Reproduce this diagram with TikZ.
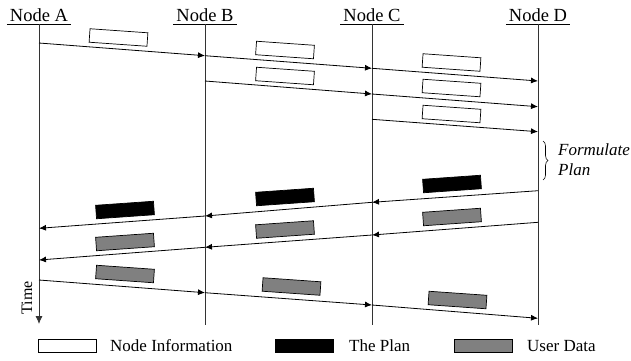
\documentclass[tikz,border=0pt]{standalone}
\usepackage{fontspec}
\setmainfont{Liberation Serif}
\usetikzlibrary{arrows.meta,decorations.pathreplacing}
\begin{document}
\begin{tikzpicture}[x=1pt,y=-1pt,
  title/.style={font=\fontsize{18.5}{20}\selectfont, anchor=base, inner xsep=3pt, inner ysep=3pt},
  lifeline/.style={line width=0.8pt, draw=black!80},
  msg/.style={line width=0.8pt, -{Latex[length=7pt,width=6pt]}},
  pkt/.style={draw=black, line width=0.7pt, minimum width=58pt, minimum height=13.5pt, inner sep=0pt},
  infobox/.style={pkt, fill=white},
  planbox/.style={pkt, fill=black},
  databox/.style={pkt, fill=black!50},
  fwd/.style={rotate=-4},
  back/.style={rotate=4},
  legtext/.style={font=\fontsize{17}{20}\selectfont, anchor=base west, inner sep=0pt},
  note/.style={font=\fontsize{17}{20}\selectfont\itshape, anchor=base west, inner sep=0pt}
]
\useasboundingbox (0,0) rectangle (631,360);

% titles
\node[title] (tA) at (39,21) {Node A};
\node[title] (tB) at (205,21) {Node B};
\node[title] (tC) at (372,21) {Node C};
\node[title] (tD) at (538,21) {Node D};
\foreach \n in {A,B,C,D}{\draw[line width=0.7pt] (t\n.south west) -- (t\n.south east);}

% lifeline ends
\coordinate (eA) at (39,324);
\coordinate (eB) at (205,325);
\coordinate (eC) at (372,325);
\coordinate (eD) at (538,325);
\draw[lifeline, -{Latex[length=8pt,width=7pt]}] (tA.south) -- (eA);
\draw[lifeline] (tB.south) -- (eB);
\draw[lifeline] (tC.south) -- (eC);
\draw[lifeline] (tD.south) -- (eD);

% message points
\coordinate (a1) at (39,43);   \coordinate (b1) at (205,55.7);
\coordinate (c1) at (372,68.3); \coordinate (d1) at (538,81);
\coordinate (b2) at (205,81);  \coordinate (c2) at (372,94);
\coordinate (d2) at (538,106.7);
\coordinate (c3) at (372,119.3); \coordinate (d3) at (538,131.7);
\coordinate (d4) at (538,190.7); \coordinate (c4) at (372,202.3);
\coordinate (b4) at (205,216);   \coordinate (a4) at (39,228.3);
\coordinate (d5) at (538,222.3); \coordinate (c5) at (372,235);
\coordinate (b5) at (205,247.3); \coordinate (a5) at (39,260);
\coordinate (a6) at (39,280);    \coordinate (b6) at (205,292.7);
\coordinate (c6) at (372,305);   \coordinate (d6) at (538,318.3);

\draw[msg] (a1) -- (b1); \draw[msg] (b1) -- (c1); \draw[msg] (c1) -- (d1);
\draw[msg] (b2) -- (c2); \draw[msg] (c2) -- (d2);
\draw[msg] (c3) -- (d3);
\draw[msg] (d4) -- (c4); \draw[msg] (c4) -- (b4); \draw[msg] (b4) -- (a4);
\draw[msg] (d5) -- (c5); \draw[msg] (c5) -- (b5); \draw[msg] (b5) -- (a5);
\draw[msg] (a6) -- (b6); \draw[msg] (b6) -- (c6); \draw[msg] (c6) -- (d6);

% packets
\node[infobox,fwd] (i1) at (118.5,37.5) {};
\node[infobox,fwd] (i2) at (285,50) {};
\node[infobox,fwd] (i3) at (285,76) {};
\node[infobox,fwd] (i4) at (451.5,62.5) {};
\node[infobox,fwd] (i5) at (451.5,88) {};
\node[infobox,fwd] (i6) at (451.5,114) {};

\node[planbox,back] (p1) at (452,184) {};
\node[planbox,back] (p2) at (285,197) {};
\node[planbox,back] (p3) at (125,210) {};

\node[databox,back] (u1) at (452,217) {};
\node[databox,back] (u2) at (285,229.5) {};
\node[databox,back] (u3) at (125,242) {};

\node[databox,fwd] (u4) at (125,274) {};
\node[databox,fwd] (u5) at (291.5,286.5) {};
\node[databox,fwd] (u6) at (457.5,300) {};

% formulate plan
\coordinate (br1) at (543,141);
\coordinate (br2) at (543,180);
\draw[line width=0.6pt, decorate, decoration={brace, amplitude=5pt}] (br1) -- (br2);
\node[note] (f1) at (558,155) {Formulate};
\node[note] (f2) at (558,175) {Plan};

% time label
\node[font=\fontsize{16}{18}\selectfont, rotate=90, inner sep=0pt] (time) at (27,298) {Time};

% legend
\node[infobox] (l1) at (67.5,346) {};
\node[legtext] (lt1) at (110,351) {Node Information};
\node[planbox] (l2) at (304.5,346) {};
\node[legtext] (lt2) at (349,351) {The Plan};
\node[databox] (l3) at (483,346) {};
\node[legtext] (lt3) at (527,351) {User Data};
\end{tikzpicture}
\end{document}
